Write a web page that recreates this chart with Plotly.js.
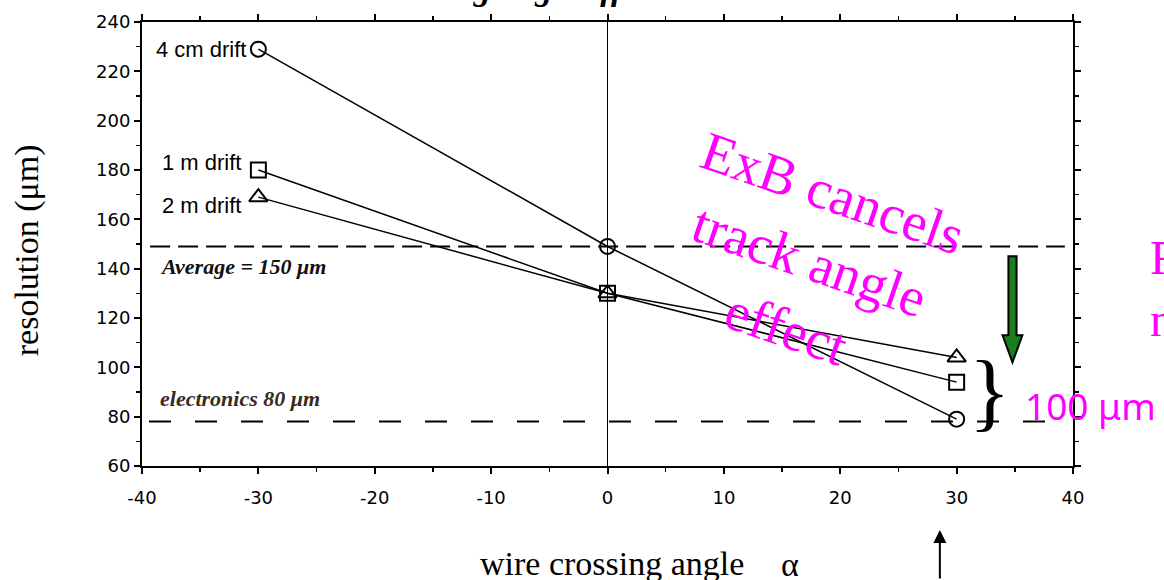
<!DOCTYPE html>
<html>
<head>
<meta charset="utf-8">
<script src="https://cdn.plot.ly/plotly-3.0.1.min.js"></script>
<style>html,body{margin:0;padding:0;background:#fff;}#chart{width:1164px;height:580px;}</style>
</head>
<body>
<div id="chart"></div>
<script>
// ---- data ----
const angles = [-30, 0, 30];
const res4cm = [229, 149, 79];
const res1m  = [180, 130, 94];
const res2m  = [169, 130, 104];
const averageLevel = 149;
const electronicsLevel = 78;
const xTickVals = [-40, -30, -20, -10, 0, 10, 20, 30, 40];
const xTickText = ['-40', '-30', '-20', '-10', '0', '10', '20', '30', '40'];
const yTickVals = [60, 80, 100, 120, 140, 160, 180, 200, 220, 240];
const yTickText = ['60', '80', '100', '120', '140', '160', '180', '200', '220', '240'];

const lineStyle = {color: '#000', width: 1.5};
function series(name, y, symbol, size) {
  return {
    x: angles, y: y, name: name, type: 'scatter', mode: 'lines+markers',
    line: lineStyle,
    marker: {symbol: symbol, size: size, color: '#000', line: {color: '#000', width: 2}},
    cliponaxis: false
  };
}
const traces = [
  series('4 cm drift', res4cm, 'circle-open', 15),
  series('1 m drift', res1m, 'square-open', 15),
  series('2 m drift', res2m, 'triangle-up-open', 16)
];

const sans = 'Liberation Sans, Arial, sans-serif';
const serif = 'Liberation Serif, Times New Roman, serif';
const magenta = '#ff00ff';

const layout = {
  width: 1164, height: 580,
  margin: {l: 142, r: 91, t: 22, b: 114},
  paper_bgcolor: '#fff', plot_bgcolor: '#fff',
  showlegend: false,
  xaxis: {
    range: [-40, 40], tickvals: xTickVals, ticktext: xTickText,
    showgrid: false, zeroline: false,
    showline: true, linecolor: '#000', linewidth: 2, mirror: 'allticks',
    ticks: 'outside', ticklen: 6, tickwidth: 2, tickcolor: '#000',
    minor: {dtick: 5, tick0: 0, ticks: 'outside', ticklen: 4, tickwidth: 1.5, tickcolor: '#000'},
    tickfont: {family: 'DejaVu Sans, sans-serif', size: 18, color: '#000'},
    ticklabelstandoff: 8
  },
  yaxis: {
    range: [60, 240], tickvals: yTickVals, ticktext: yTickText,
    showgrid: false, zeroline: false,
    showline: true, linecolor: '#000', linewidth: 2, mirror: 'allticks',
    ticks: 'outside', ticklen: 6, tickwidth: 2, tickcolor: '#000',
    minor: {dtick: 10, tick0: 0, ticks: 'outside', ticklen: 4, tickwidth: 1.5, tickcolor: '#000'},
    tickfont: {family: 'DejaVu Sans, sans-serif', size: 18, color: '#000'},
    ticklabelstandoff: 0
  },
  shapes: [
    {type: 'line', xref: 'x', yref: 'y', x0: 0, x1: 0, y0: 60, y1: 240, line: {color: '#000', width: 1}},
    {type: 'line', xref: 'x', yref: 'y', x0: -39.3, x1: 39.3, y0: averageLevel, y1: averageLevel,
     line: {color: '#000', width: 2, dash: '20px,8px'}},
    {type: 'line', xref: 'x', yref: 'y', x0: -39.4, x1: 39.0, y0: electronicsLevel, y1: electronicsLevel,
     line: {color: '#000', width: 2, dash: '22px,24px'}},
    {type: 'path', xref: 'x', yref: 'y',
     path: 'M 34.45,145 L 35.15,145 L 35.15,113 L 35.65,113 L 34.8,102 L 33.95,113 L 34.45,113 Z',
     fillcolor: '#1a7f1a', line: {color: '#000', width: 2}}
  ],
  annotations: [
    {xref: 'paper', yref: 'paper', x: 0.2385, y: 1.03, xanchor: 'left', yanchor: 'bottom', showarrow: false,
     text: '<b><i>Crossing angle effect</i></b>', font: {family: serif, size: 34, color: '#000'}},
    {xref: 'x', yref: 'y', x: -30.9, y: 229, xanchor: 'right', yanchor: 'middle', showarrow: false,
     text: '4 cm drift', font: {family: sans, size: 22, color: '#000'}},
    {xref: 'x', yref: 'y', x: -31.3, y: 183.2, xanchor: 'right', yanchor: 'middle', showarrow: false,
     text: '1 m drift', font: {family: sans, size: 22, color: '#000'}},
    {xref: 'x', yref: 'y', x: -31.3, y: 165.8, xanchor: 'right', yanchor: 'middle', showarrow: false,
     text: '2 m drift', font: {family: sans, size: 22, color: '#000'}},
    {xref: 'x', yref: 'y', x: -38.6, y: 140.7, xanchor: 'left', yanchor: 'middle', showarrow: false,
     text: '<b><i>Average = 150 μm</i></b>', font: {family: serif, size: 22, color: '#111'}},
    {xref: 'x', yref: 'y', x: -38.6, y: 87.2, xanchor: 'left', yanchor: 'middle', showarrow: false,
     text: '<b><i>electronics 80 μm</i></b>', font: {family: serif, size: 22, color: '#3a2a1e'}},
    {xref: 'x', yref: 'y', x: 17.4, y: 143.3, xanchor: 'center', yanchor: 'middle', showarrow: false,
     textangle: 19, align: 'center',
     text: 'ExB cancels<br>track angle<br>effect', font: {family: serif, size: 55, color: magenta}},
    {xref: 'x', yref: 'y', x: 32.85, y: 90.5, xanchor: 'center', yanchor: 'middle', showarrow: false,
     text: '}', font: {family: serif, size: 86, color: '#000'}},
    {xref: 'x', yref: 'y', x: 35.7, y: 84.7, xanchor: 'left', yanchor: 'middle', showarrow: false,
     text: '100 μm', font: {family: 'Noto Sans, sans-serif', size: 37, color: magenta}},
    {xref: 'paper', yref: 'paper', x: 1.081, y: 0.40, xanchor: 'left', yanchor: 'middle', showarrow: false,
     align: 'left', text: 'Re<br>no', font: {family: serif, size: 48, color: magenta}},
    {xref: 'paper', yref: 'paper', x: -0.1235, y: 0.486, xanchor: 'center', yanchor: 'middle', showarrow: false,
     textangle: -90, text: 'resolution (μm)', font: {family: serif, size: 34, color: '#000'}},
    {xref: 'paper', yref: 'paper', x: 0.505, y: -0.2185, xanchor: 'center', yanchor: 'middle', showarrow: false,
     text: 'wire crossing angle', font: {family: serif, size: 34, color: '#000'}},
    {xref: 'paper', yref: 'paper', x: 0.696, y: -0.222, xanchor: 'center', yanchor: 'middle', showarrow: false,
     text: 'α', font: {family: serif, size: 34, color: '#000'}},
    {xref: 'x', yref: 'paper', x: 28.56, y: -0.144, ax: 0, ay: 52, showarrow: true, text: '',
     arrowhead: 2, arrowsize: 1.3, arrowwidth: 2, arrowcolor: '#000'}
  ]
};

Plotly.newPlot('chart', traces, layout, {displayModeBar: false, staticPlot: true});
</script>
</body>
</html>
